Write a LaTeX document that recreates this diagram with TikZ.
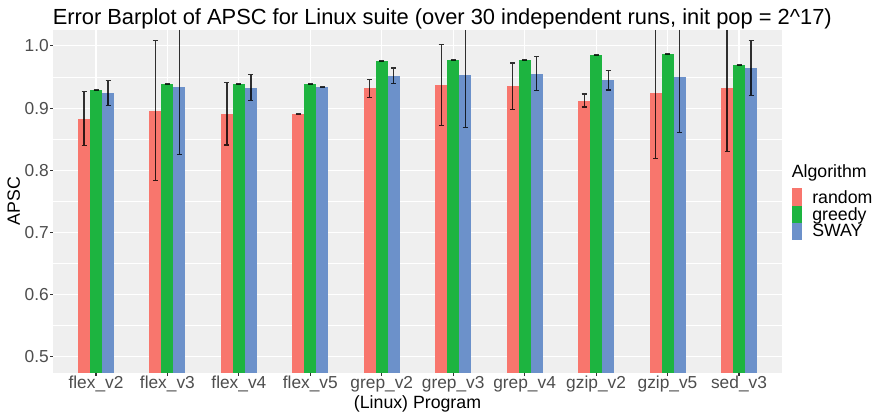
\documentclass[tikz,border=0pt]{standalone}
\usepackage{fontspec}
\setmainfont{Liberation Sans}
\definecolor{rndred}{RGB}{248,118,109}
\definecolor{grdgreen}{RGB}{29,180,64}
\definecolor{swayblue}{RGB}{108,145,202}
\definecolor{panelgray}{RGB}{239,239,239}
\definecolor{gray30}{RGB}{77,77,77}
\definecolor{gray20}{RGB}{51,51,51}

\begin{document}
\begin{tikzpicture}[x=0.75pt,y=0.75pt,yscale=-1,xscale=1,
    rbar/.style={fill=rndred},
    gbar/.style={fill=grdgreen},
    bbar/.style={fill=swayblue},
    errbar/.style={draw=black,draw opacity=0.8,line width=0.9pt},
    majgrid/.style={draw=white,line width=0.8pt},
    mingrid/.style={draw=white,line width=0.4pt},
    tickmark/.style={draw=gray20,line width=0.8pt},
    ticklabel/.style={text=gray30,font=\fontsize{13}{15}\selectfont,inner sep=0pt},
    axtitle/.style={font=\fontsize{13.3}{16}\selectfont,inner sep=0pt}]
        \useasboundingbox (0,0) rectangle (877,413);

        %Shape: Rectangle [panel]
        \fill [panelgray] (53,30) rectangle (782,372.7);
        %Straight Lines [minor grid]
        \draw [mingrid] (53,325.3) -- (782,325.3) (53,263.3) -- (782,263.3) (53,201.3) -- (782,201.3) (53,139.3) -- (782,139.3) (53,77) -- (782,77);
        %Straight Lines [major grid]
        \draw [majgrid] (53,356.3) -- (782,356.3) (53,294.3) -- (782,294.3) (53,232.3) -- (782,232.3) (53,170.3) -- (782,170.3) (53,108.3) -- (782,108.3) (53,45.7) -- (782,45.7);
        \draw [majgrid] (96,30) -- (96,372.7) (167.4,30) -- (167.4,372.7) (238.9,30) -- (238.9,372.7) (310.3,30) -- (310.3,372.7) (381.8,30) -- (381.8,372.7);
        \draw [majgrid] (453.2,30) -- (453.2,372.7) (524.6,30) -- (524.6,372.7) (596.1,30) -- (596.1,372.7) (667.5,30) -- (667.5,372.7) (739,30) -- (739,372.7);

        %Shape: Rectangle [flex_v2]
        \fill [rbar] (78,119) rectangle (90,372.7);
        \fill [gbar] (90,90) rectangle (102,372.7);
        \fill [bbar] (102,93) rectangle (114,372.7);
        %Shape: Rectangle [flex_v3]
        \fill [rbar] (149.4,111) rectangle (161.4,372.7);
        \fill [gbar] (161.4,84) rectangle (173.4,372.7);
        \fill [bbar] (173.4,87) rectangle (185.4,372.7);
        %Shape: Rectangle [flex_v4]
        \fill [rbar] (220.9,114) rectangle (232.9,372.7);
        \fill [gbar] (232.9,84) rectangle (244.9,372.7);
        \fill [bbar] (244.9,88) rectangle (256.9,372.7);
        %Shape: Rectangle [flex_v5]
        \fill [rbar] (292.3,114.3) rectangle (304.3,372.7);
        \fill [gbar] (304.3,84.3) rectangle (316.3,372.7);
        \fill [bbar] (316.3,86.7) rectangle (328.3,372.7);
        %Shape: Rectangle [grep_v2]
        \fill [rbar] (363.8,88) rectangle (375.8,372.7);
        \fill [gbar] (375.8,60.7) rectangle (387.8,372.7);
        \fill [bbar] (387.8,76) rectangle (399.8,372.7);
        %Shape: Rectangle [grep_v3]
        \fill [rbar] (435.2,85) rectangle (447.2,372.7);
        \fill [gbar] (447.2,60) rectangle (459.2,372.7);
        \fill [bbar] (459.2,75) rectangle (471.2,372.7);
        %Shape: Rectangle [grep_v4]
        \fill [rbar] (506.6,86) rectangle (518.6,372.7);
        \fill [gbar] (518.6,60) rectangle (530.6,372.7);
        \fill [bbar] (530.6,74) rectangle (542.6,372.7);
        %Shape: Rectangle [gzip_v2]
        \fill [rbar] (578.1,101) rectangle (590.1,372.7);
        \fill [gbar] (590.1,55) rectangle (602.1,372.7);
        \fill [bbar] (602.1,80) rectangle (614.1,372.7);
        %Shape: Rectangle [gzip_v5]
        \fill [rbar] (649.5,93) rectangle (661.5,372.7);
        \fill [gbar] (661.5,54.3) rectangle (673.5,372.7);
        \fill [bbar] (673.5,77) rectangle (685.5,372.7);
        %Shape: Rectangle [sed_v3]
        \fill [rbar] (721,88) rectangle (733,372.7);
        \fill [gbar] (733,65) rectangle (745,372.7);
        \fill [bbar] (745,68) rectangle (757,372.7);

        %Straight Lines [error bars flex_v2]
        \draw [errbar] (84,91.3) -- (84,145.7) (81.5,91.3) -- (86.5,91.3) (81.5,145.7) -- (86.5,145.7);
        \draw [errbar] (93.5,89.5) -- (98.5,89.5) (93.5,90.5) -- (98.5,90.5);
        \draw [errbar] (108,80.7) -- (108,105.7) (105.5,80.7) -- (110.5,80.7) (105.5,105.7) -- (110.5,105.7);
        %Straight Lines [error bars flex_v3]
        \draw [errbar] (155.4,40.3) -- (155.4,180.3) (152.9,40.3) -- (157.9,40.3) (152.9,180.3) -- (157.9,180.3);
        \draw [errbar] (164.9,83.5) -- (169.9,83.5) (164.9,84.5) -- (169.9,84.5);
        \draw [errbar] (179.4,30) -- (179.4,154.3) (176.9,154.3) -- (181.9,154.3);
        %Straight Lines [error bars flex_v4]
        \draw [errbar] (226.9,82.7) -- (226.9,145) (224.4,82.7) -- (229.4,82.7) (224.4,145) -- (229.4,145);
        \draw [errbar] (236.4,83.5) -- (241.4,83.5) (236.4,84.5) -- (241.4,84.5);
        \draw [errbar] (250.9,74.3) -- (250.9,100.3) (248.4,74.3) -- (253.4,74.3) (248.4,100.3) -- (253.4,100.3);
        %Straight Lines [error bars flex_v5]
        \draw [errbar] (295.8,113.8) -- (300.8,113.8) (295.8,114.8) -- (300.8,114.8);
        \draw [errbar] (307.8,83.8) -- (312.8,83.8) (307.8,84.8) -- (312.8,84.8);
        \draw [errbar] (319.8,86.2) -- (324.8,86.2) (319.8,87.2) -- (324.8,87.2);
        %Straight Lines [error bars grep_v2]
        \draw [errbar] (369.8,79.3) -- (369.8,97.7) (367.3,79.3) -- (372.3,79.3) (367.3,97.7) -- (372.3,97.7);
        \draw [errbar] (379.3,60.2) -- (384.3,60.2) (379.3,61.2) -- (384.3,61.2);
        \draw [errbar] (393.8,68) -- (393.8,83.7) (391.3,68) -- (396.3,68) (391.3,83.7) -- (396.3,83.7);
        %Straight Lines [error bars grep_v3]
        \draw [errbar] (441.2,44.3) -- (441.2,125.3) (438.7,44.3) -- (443.7,44.3) (438.7,125.3) -- (443.7,125.3);
        \draw [errbar] (450.7,59.5) -- (455.7,59.5) (450.7,60.5) -- (455.7,60.5);
        \draw [errbar] (465.2,30) -- (465.2,127.7) (462.7,127.7) -- (467.7,127.7);
        %Straight Lines [error bars grep_v4]
        \draw [errbar] (512.6,63) -- (512.6,109.3) (510.1,63) -- (515.1,63) (510.1,109.3) -- (515.1,109.3);
        \draw [errbar] (522.1,59.5) -- (527.1,59.5) (522.1,60.5) -- (527.1,60.5);
        \draw [errbar] (536.6,56.3) -- (536.6,90.7) (534.1,56.3) -- (539.1,56.3) (534.1,90.7) -- (539.1,90.7);
        %Straight Lines [error bars gzip_v2]
        \draw [errbar] (584.1,94) -- (584.1,107) (581.6,94) -- (586.6,94) (581.6,107) -- (586.6,107);
        \draw [errbar] (593.6,54.5) -- (598.6,54.5) (593.6,55.5) -- (598.6,55.5);
        \draw [errbar] (608.1,70.3) -- (608.1,90) (605.6,70.3) -- (610.6,70.3) (605.6,90) -- (610.6,90);
        %Straight Lines [error bars gzip_v5]
        \draw [errbar] (655.5,30) -- (655.5,158.7) (653,158.7) -- (658,158.7);
        \draw [errbar] (665,53.8) -- (670,53.8) (665,54.8) -- (670,54.8);
        \draw [errbar] (679.5,30) -- (679.5,132.7) (677,132.7) -- (682,132.7);
        %Straight Lines [error bars sed_v3]
        \draw [errbar] (727,30) -- (727,151.7) (724.5,151.7) -- (729.5,151.7);
        \draw [errbar] (736.5,64.5) -- (741.5,64.5) (736.5,65.5) -- (741.5,65.5);
        \draw [errbar] (751,40.7) -- (751,95.7) (748.5,40.7) -- (753.5,40.7) (748.5,95.7) -- (753.5,95.7);

        %Straight Lines [ticks]
        \draw [tickmark] (50.2,356.3) -- (53,356.3) (50.2,294.3) -- (53,294.3) (50.2,232.3) -- (53,232.3) (50.2,170.3) -- (53,170.3) (50.2,108.3) -- (53,108.3) (50.2,45.7) -- (53,45.7);
        \draw [tickmark] (96,372.7) -- (96,375.5) (167.4,372.7) -- (167.4,375.5) (238.9,372.7) -- (238.9,375.5) (310.3,372.7) -- (310.3,375.5) (381.8,372.7) -- (381.8,375.5);
        \draw [tickmark] (453.2,372.7) -- (453.2,375.5) (524.6,372.7) -- (524.6,375.5) (596.1,372.7) -- (596.1,375.5) (667.5,372.7) -- (667.5,375.5) (739,372.7) -- (739,375.5);

        % Text Node
        \node [ticklabel,anchor=east] (y05) at (49,356.3) {0.5};
        % Text Node
        \node [ticklabel,anchor=east] (y06) at (49,294.3) {0.6};
        % Text Node
        \node [ticklabel,anchor=east] (y07) at (49,232.3) {0.7};
        % Text Node
        \node [ticklabel,anchor=east] (y08) at (49,170.3) {0.8};
        % Text Node
        \node [ticklabel,anchor=east] (y09) at (49,108.3) {0.9};
        % Text Node
        \node [ticklabel,anchor=east] (y10) at (49,45.7) {1.0};
        % Text Node
        \node [ticklabel,anchor=base] (flexv2) at (96,388.3) {flex\_v2};
        % Text Node
        \node [ticklabel,anchor=base] (flexv3) at (167.4,388.3) {flex\_v3};
        % Text Node
        \node [ticklabel,anchor=base] (flexv4) at (238.9,388.3) {flex\_v4};
        % Text Node
        \node [ticklabel,anchor=base] (flexv5) at (310.3,388.3) {flex\_v5};
        % Text Node
        \node [ticklabel,anchor=base] (grepv2) at (381.8,388.3) {grep\_v2};
        % Text Node
        \node [ticklabel,anchor=base] (grepv3) at (453.2,388.3) {grep\_v3};
        % Text Node
        \node [ticklabel,anchor=base] (grepv4) at (524.6,388.3) {grep\_v4};
        % Text Node
        \node [ticklabel,anchor=base] (gzipv2) at (596.1,388.3) {gzip\_v2};
        % Text Node
        \node [ticklabel,anchor=base] (gzipv5) at (667.5,388.3) {gzip\_v5};
        % Text Node
        \node [ticklabel,anchor=base] (sedv3) at (739,388.3) {sed\_v3};

        % Text Node
        \node [axtitle,anchor=base] (xtitle) at (417.5,408) {(Linux) Program};
        % Text Node
        \node [axtitle,rotate=90] (ytitle) at (13.7,201.3) {APSC};
        % Text Node
        \node [anchor=base west,inner sep=0pt,font=\fontsize{16.4}{20}\selectfont] (title) at (52.5,24.5) {Error Barplot of APSC for Linux suite (over 30 independent runs, init pop = 2\textasciicircum 17)};

        %Shape: Rectangle [legend keys]
        \fill [rbar] (791.7,188.3) rectangle (802,206);
        \fill [gbar] (791.7,206) rectangle (802,223.3);
        \fill [bbar] (791.7,223.3) rectangle (802,240);
        % Text Node
        \node [axtitle,anchor=base west] (legtitle) at (791.5,177.7) {Algorithm};
        % Text Node
        \node [axtitle,anchor=base west] (legrandom) at (812,203.3) {random};
        % Text Node
        \node [axtitle,anchor=base west] (leggreedy) at (812,220.3) {greedy};
        % Text Node
        \node [axtitle,anchor=base west] (legsway) at (812,237) {SWAY};

\end{tikzpicture}
\end{document}
